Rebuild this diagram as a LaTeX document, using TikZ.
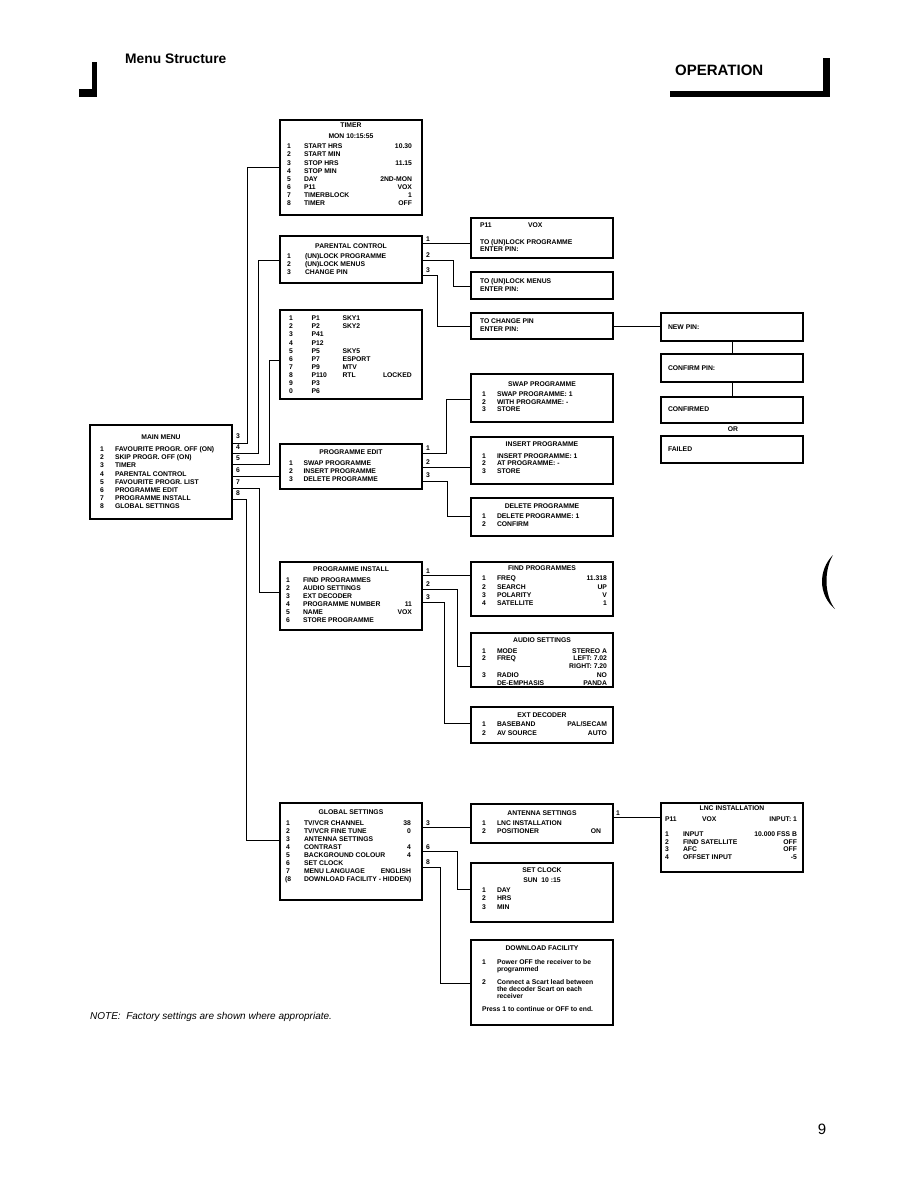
\documentclass[tikz,border=0pt]{standalone}
\usepackage{fontspec}
\setmainfont{Liberation Sans}
\usetikzlibrary{calc}
\newcounter{tn}
\newcommand\Txt[3][base west]{\stepcounter{tn}\node[txt,anchor=#1] (t\thetn) at ($(#2)+(0,2.4)$) {#3};}
\newcommand\Row[3]{\Txt{\cN,#1}{#2}\Txt{\cT,#1}{#3}}
\newcommand\RowV[4]{\Row{#1}{#2}{#3}\Txt[base east]{\cV,#1}{#4}}
\newcommand\Bx[5]{\node[box,anchor=north west,minimum width={(#4-#2)*1pt},minimum height={(#5-#3)*1pt}] (#1) at (#2,#3) {};}
\tikzset{
  txt/.style={inner sep=0pt,outer sep=0pt,font=\fontsize{6.8}{8}\selectfont\bfseries},
  box/.style={draw,line width=1.3pt,inner sep=0pt,outer sep=0pt},
  conn/.style={draw,line width=0.9pt},
}
\begin{document}
\begin{tikzpicture}[x=1pt,y=-1pt]
\useasboundingbox (0,0) rectangle (918,1188);
\fill[white] (0,0) rectangle (918,1188);

% header / footer
\fill (92,62) rectangle (97,97);
\fill (79,89) rectangle (97,97);
\node[anchor=base west,inner sep=0pt,font=\fontsize{13.8}{15}\selectfont\bfseries] (hdr) at (125,64) {Menu Structure};
\node[anchor=base west,inner sep=0pt,font=\fontsize{15}{17}\selectfont\bfseries] (op) at (675,76) {OPERATION};
\fill (670,91) rectangle (830,97);
\fill (823,58) rectangle (830,97);
\fill (833,555) .. controls (818,570) and (818,595) .. (835,609) .. controls (824,595) and (824,570) .. (833,555) -- cycle;
\node[anchor=base,inner sep=0pt,font=\fontsize{15}{17}\selectfont] (pg) at (822,1134) {9};
\node[anchor=base west,inner sep=0pt,font=\fontsize{10}{12}\selectfont\itshape] (note) at (90,1019.5) {NOTE:\ \ Factory settings are shown where appropriate.};

% boxes
\Bx{main}{90}{425}{232}{519}
\Bx{timer}{280}{120}{422}{215}
\Bx{parental}{280}{236}{422}{283}
\Bx{chan}{280}{310}{422}{399}
\Bx{pedit}{280}{444}{422}{489}
\Bx{pinst}{280}{562}{422}{630}
\Bx{glob}{280}{803}{422}{900}
\Bx{p11}{471}{218}{613}{258}
\Bx{unmenus}{471}{272}{613}{299}
\Bx{chpin}{471}{313}{613}{339}
\Bx{newpin}{661}{313}{803}{341}
\Bx{confpin}{661}{354}{803}{382}
\Bx{confirmed}{661}{397}{803}{423}
\Bx{failed}{661}{436}{803}{463}
\Bx{swap}{471}{374}{613}{422}
\Bx{insert}{471}{437}{613}{484}
\Bx{delete}{471}{498}{613}{536}
\Bx{find}{471}{562}{613}{616}
\Bx{audio}{471}{633}{613}{687}
\Bx{ext}{471}{707}{613}{743}
\Bx{ant}{471}{804}{613}{843}
\Bx{setclock}{471}{863}{613}{922}
\Bx{download}{471}{940}{613}{1025}
\Bx{lnc}{661}{803}{803}{872}

% connectors from main menu
\draw[conn] (main.east |- 0,443) -| (247,167) -- (timer.west |- 0,167);
\draw[conn] (main.east |- 0,453) -| (258,260) -- (parental.west |- 0,260);
\draw[conn] (main.east |- 0,464) -| (269,360) -- (chan.west |- 0,360);
\draw[conn] (main.east |- 0,476) -- (pedit.west |- 0,476);
\draw[conn] (main.east |- 0,488) -| (259,592) -- (pinst.west |- 0,592);
\draw[conn] (main.east |- 0,499) -| (246,840) -- (glob.west |- 0,840);
\Txt{236,436.5}{3}\Txt{236,447.5}{4}\Txt{236,458.5}{5}
\Txt{236,470.5}{6}\Txt{236,482}{7}\Txt{236,493.5}{8}

% parental control
\draw[conn] (parental.east |- 0,243.5) -- (p11.west |- 0,243.5);
\draw[conn] (parental.east |- 0,260.5) -| (453,286.5) -- (unmenus.west |- 0,286.5);
\draw[conn] (parental.east |- 0,275) -| (437.5,326) -- (chpin.west |- 0,326);
\Txt{426,239}{1}\Txt{426,255.5}{2}\Txt{426,270}{3}
\draw[conn] (chpin.east |- 0,326.5) -- (newpin.west |- 0,326.5);
\draw[conn] (newpin.south) -- (confpin.north);
\draw[conn] (confpin.south) -- (confirmed.north);

% programme edit
\draw[conn] (pedit.east |- 0,453.5) -| (446,399.5) -- (swap.west |- 0,399.5);
\draw[conn] (pedit.east |- 0,467) -- (insert.west |- 0,467);
\draw[conn] (pedit.east |- 0,481) -| (447.5,516.5) -- (delete.west |- 0,516.5);
\Txt{426,448.5}{1}\Txt{426,462}{2}\Txt{426,475.5}{3}

% programme install
\draw[conn] (pinst.east |- 0,575) -- (find.west |- 0,575);
\draw[conn] (pinst.east |- 0,589.5) -| (457.5,666) -- (audio.west |- 0,666);
\draw[conn] (pinst.east |- 0,602) -| (444.5,723) -- (ext.west |- 0,723);
\Txt{426,571}{1}\Txt{426,584}{2}\Txt{426,597}{3}

% global settings
\draw[conn] (glob.east |- 0,827.5) -- (ant.west |- 0,827.5);
\draw[conn] (glob.east |- 0,851) -| (457.5,889.5) -- (setclock.west |- 0,889.5);
\draw[conn] (glob.east |- 0,867.5) -| (440.5,983.5) -- (download.west |- 0,983.5);
\Txt{426,823}{3}\Txt{426,847}{6}\Txt{426,862}{8}
\draw[conn] (ant.east |- 0,817.5) -- (lnc.west |- 0,817.5);
\Txt{616,813}{1}

% ---- texts ----
% timer
\def\cN{287}\def\cT{304}\def\cV{412}
\Txt[base]{351,125}{TIMER}
\Txt[base]{351,136}{MON 10:15:55}
\RowV{146.5}{1}{START HRS}{10.30}
\Row{154.6}{2}{START MIN}
\RowV{162.7}{3}{STOP HRS}{11.15}
\Row{170.8}{4}{STOP MIN}
\RowV{178.9}{5}{DAY}{2ND-MON}
\RowV{187}{6}{P11}{VOX}
\RowV{195.1}{7}{TIMERBLOCK}{1}
\RowV{203.2}{8}{TIMER}{OFF}

% parental
\def\cN{287}\def\cT{305}
\Txt[base]{351,246}{PARENTAL CONTROL}
\Row{256}{1}{(UN)LOCK PROGRAMME}
\Row{264}{2}{(UN)LOCK MENUS}
\Row{272}{3}{CHANGE PIN}

% channel list
\def\cN{289}\def\cT{311.5}
\Row{318.3}{1}{P1}\Txt{342.5,318.3}{SKY1}
\Row{326.4}{2}{P2}\Txt{342.5,326.4}{SKY2}
\Row{334.5}{3}{P41}
\Row{342.6}{4}{P12}
\Row{350.7}{5}{P5}\Txt{342.5,350.7}{SKY5}
\Row{358.8}{6}{P7}\Txt{342.5,358.8}{ESPORT}
\Row{366.9}{7}{P9}\Txt{342.5,366.9}{MTV}
\Row{375}{8}{P110}\Txt{342.5,375}{RTL}\Txt{383,375}{LOCKED}
\Row{383.1}{9}{P3}
\Row{391.2}{0}{P6}

% main menu
\def\cN{100}\def\cT{115}
\Txt[base]{161,437}{MAIN MENU}
\Row{449}{1}{FAVOURITE PROGR. OFF (ON)}
\Row{457.2}{2}{SKIP PROGR. OFF (ON)}
\Row{465.4}{3}{TIMER}
\Row{473.6}{4}{PARENTAL CONTROL}
\Row{481.8}{5}{FAVOURITE PROGR. LIST}
\Row{490}{6}{PROGRAMME EDIT}
\Row{498.2}{7}{PROGRAMME INSTALL}
\Row{506.4}{8}{GLOBAL SETTINGS}

% programme edit
\def\cN{289}\def\cT{303.5}
\Txt[base]{351,451.7}{PROGRAMME EDIT}
\Row{462.7}{1}{SWAP PROGRAMME}
\Row{470.6}{2}{INSERT PROGRAMME}
\Row{478.7}{3}{DELETE PROGRAMME}

% programme install
\def\cN{286}\def\cT{303}\def\cV{412}
\Txt[base]{351,569.3}{PROGRAMME INSTALL}
\Row{580}{1}{FIND PROGRAMMES}
\Row{588}{2}{AUDIO SETTINGS}
\Row{596}{3}{EXT DECODER}
\RowV{604}{4}{PROGRAMME NUMBER}{11}
\RowV{612}{5}{NAME}{VOX}
\Row{620}{6}{STORE PROGRAMME}

% global settings
\def\cN{286}\def\cT{304}\def\cV{411}
\Txt[base]{351,811.7}{GLOBAL SETTINGS}
\RowV{822.7}{1}{TV/VCR CHANNEL}{38}
\RowV{830.7}{2}{TV/VCR FINE TUNE}{0}
\Row{838.7}{3}{ANTENNA SETTINGS}
\RowV{846.7}{4}{CONTRAST}{4}
\RowV{854.7}{5}{BACKGROUND COLOUR}{4}
\Row{862.7}{6}{SET CLOCK}
\RowV{870.7}{7}{MENU LANGUAGE}{ENGLISH}
\Txt{285,878.7}{(8}\Txt{304,878.7}{DOWNLOAD FACILITY - HIDDEN)}

% PIN boxes
\Txt{480,225}{P11}\Txt{528,225}{VOX}
\Txt{480,241.7}{TO (UN)LOCK PROGRAMME}
\Txt{480,249.3}{ENTER PIN:}
\Txt{480,280.7}{TO (UN)LOCK MENUS}
\Txt{480,289}{ENTER PIN:}
\Txt{480,320.7}{TO CHANGE PIN}
\Txt{480,328.7}{ENTER PIN:}
\Txt{668,327.3}{NEW PIN:}
\Txt{668,368}{CONFIRM PIN:}
\Txt{668,409.5}{CONFIRMED}
\Txt[base]{733,429.5}{OR}
\Txt{668,449.5}{FAILED}

% right column
\def\cN{482}\def\cT{497}\def\cV{607}
\Txt[base]{542,384}{SWAP PROGRAMME}
\Row{394}{1}{SWAP PROGRAMME: 1}
\Row{401.7}{2}{WITH PROGRAMME: -}
\Row{409.3}{3}{STORE}
\Txt[base]{542,444.3}{INSERT PROGRAMME}
\Row{455.7}{1}{INSERT PROGRAMME: 1}
\Row{463.3}{2}{AT PROGRAMME: -}
\Row{471}{3}{STORE}
\Txt[base]{542,506}{DELETE PROGRAMME}
\Row{515.7}{1}{DELETE PROGRAMME: 1}
\Row{524}{2}{CONFIRM}

\Txt[base]{542,568.3}{FIND PROGRAMMES}
\RowV{578.3}{1}{FREQ}{11.318}
\RowV{586.7}{2}{SEARCH}{UP}
\RowV{595}{3}{POLARITY}{V}
\RowV{603.3}{4}{SATELLITE}{1}

\Txt[base]{542,640}{AUDIO SETTINGS}
\RowV{650.7}{1}{MODE}{STEREO A}
\RowV{658.3}{2}{FREQ}{LEFT: 7.02}
\Txt[base east]{607,666}{RIGHT: 7.20}
\RowV{674.7}{3}{RADIO}{NO}
\Txt{497,682.7}{DE-EMPHASIS}\Txt[base east]{607,682.7}{PANDA}

\Txt[base]{542,715.5}{EXT DECODER}
\RowV{724.3}{1}{BASEBAND}{PAL/SECAM}
\RowV{732.7}{2}{AV SOURCE}{AUTO}

\def\cV{601}
\Txt[base]{542,812.7}{ANTENNA SETTINGS}
\Row{822.7}{1}{LNC INSTALLATION}
\RowV{830.7}{2}{POSITIONER}{ON}

\Txt[base]{542,870}{SET CLOCK}
\Txt[base]{542,880}{SUN\ \ 10 :15}
\Row{890}{1}{DAY}
\Row{898.3}{2}{HRS}
\Row{906.7}{3}{MIN}

\Txt[base]{542,948.3}{DOWNLOAD FACILITY}
\Row{962.5}{1}{Power OFF the receiver to be}
\Txt{497,969.5}{programmed}
\Row{982.5}{2}{Connect a Scart lead between}
\Txt{497,989.3}{the decoder Scart on each}
\Txt{497,996.3}{receiver}
\Txt{482,1009.3}{Press 1 to continue or OFF to end.}

% LNC installation
\def\cN{665}\def\cT{683}\def\cV{797}
\Txt[base]{732,808.3}{LNC INSTALLATION}
\Txt{665,819.5}{P11}\Txt{702,819.5}{VOX}\Txt[base east]{797,819.5}{INPUT: 1}
\RowV{834.5}{1}{INPUT}{10.000 FSS B}
\RowV{842}{2}{FIND SATELLITE}{OFF}
\RowV{849.5}{3}{AFC}{OFF}
\RowV{857}{4}{OFFSET INPUT}{-5}
\end{tikzpicture}
\end{document}
